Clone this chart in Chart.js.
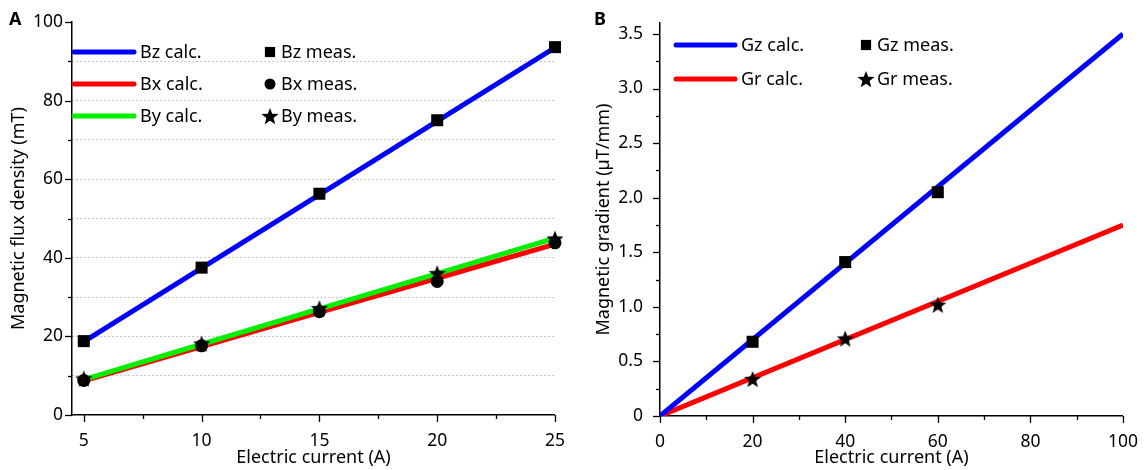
<!DOCTYPE html>
<html>
<head>
<meta charset="utf-8">
<script src="https://cdn.jsdelivr.net/npm/chart.js@4.4.0/dist/chart.umd.min.js"></script>
<style>
    html, body { margin: 0; padding: 0; background: #fff; }
    #wrap { position: relative; width: 1146px; height: 470px; }
    .box { position: absolute; top: 0; width: 573px; height: 470px; }
    .panel { position: absolute; top: 6px; font: bold 18px "Noto Sans"; color: #000; }
</style>
</head>
<body>
<div id="wrap">
    <div class="box" style="left:0"><canvas id="chartA" width="573" height="470"></canvas></div>
    <div class="box" style="left:573px"><canvas id="chartB" width="573" height="470"></canvas></div>
    <div class="panel" style="left:9px">A</div>
    <div class="panel" style="left:594px">B</div>
</div>
<script>
// ---- panel A: flux density vs current ----
const currentA = [5, 10, 15, 20, 25];
const bzCalc = [18.7, 37.4, 56.1, 74.8, 93.5];
const bxCalc = [8.7, 17.4, 26.1, 34.8, 43.5];
const byCalc = [9.0, 18.0, 27.0, 36.0, 45.0];
const bzMeas = [18.8, 37.5, 56.3, 75.0, 93.6];
const bxMeas = [8.8, 17.6, 26.3, 34.0, 43.8];
const byMeas = [9.3, 18.2, 27.2, 36.1, 44.9];
const xTicksA = [5, 10, 15, 20, 25];
const xMinorA = [7.5, 12.5, 17.5, 22.5];
const yTicksA = [0, 20, 40, 60, 80, 100];
const yMinorA = [10, 30, 50, 70, 90];

// ---- panel B: gradient vs current ----
const currentCalcB = [0, 100];
const gzCalc = [0, 3.5];
const grCalc = [0, 1.75];
const currentMeasB = [20, 40, 60];
const gzMeas = [0.68, 1.41, 2.05];
const grMeas = [0.34, 0.71, 1.02];
const xTicksB = [0, 20, 40, 60, 80, 100];
const xMinorB = [10, 30, 50, 70, 90];
const yTicksB = [0, 0.5, 1.0, 1.5, 2.0, 2.5, 3.0, 3.5];
const yMinorB = [0.25, 0.75, 1.25, 1.75, 2.25, 2.75, 3.25];

Chart.defaults.font.family = "Noto Sans";
Chart.defaults.font.size = 18;
Chart.defaults.color = "#000";

const pts = (xs, ys) => xs.map((x, i) => ({ x: x, y: ys[i] }));

/** filled 5-point star used as point style */
function makeStar(r) {
    const c = document.createElement("canvas");
    c.width = c.height = Math.ceil(r * 2 + 2);
    const g = c.getContext("2d");
    const cx = c.width / 2, cy = c.height / 2 + r * 0.1;
    g.beginPath();
    for (let i = 0; i < 10; i++) {
        const rr = i % 2 ? r * 0.42 : r;
        const a = -Math.PI / 2 + i * Math.PI / 5;
        g.lineTo(cx + rr * Math.cos(a), cy + rr * Math.sin(a));
    }
    g.closePath();
    g.fillStyle = "#000";
    g.fill();
    return c;
}
const star = makeStar(9);

function calcLine(label, xs, ys, color, width, order) {
    return {
        label: label, data: pts(xs, ys), showLine: true,
        borderColor: color, backgroundColor: color, borderWidth: width,
        pointRadius: 0, order: order
    };
}
function measPoints(label, xs, ys, style, radius) {
    return {
        label: label, data: pts(xs, ys), showLine: false, clip: false,
        pointStyle: style, pointRadius: radius, pointHoverRadius: radius,
        backgroundColor: "#000", borderColor: "#000", borderWidth: 0, order: 0
    };
}

/** major and minor tick marks drawn outside the axes */
function tickMarks(spec) {
    return {
        id: "tickMarks",
        afterDraw(chart) {
            const ctx = chart.ctx;
            ctx.save();
            ctx.strokeStyle = "#000";
            ctx.lineWidth = 1.3;
            for (const id of Object.keys(spec)) {
                const sc = chart.scales[id];
                const draw = (v, len) => {
                    const p = Math.round(sc.getPixelForValue(v)) + 0.5;
                    ctx.beginPath();
                    if (sc.isHorizontal()) { ctx.moveTo(p, sc.top); ctx.lineTo(p, sc.top + len); }
                    else { ctx.moveTo(sc.right, p); ctx.lineTo(sc.right - len, p); }
                    ctx.stroke();
                };
                spec[id].major.forEach(v => draw(v, 7));
                spec[id].minor.forEach(v => draw(v, 4));
            }
            ctx.restore();
        }
    };
}

/** two-column legend inside the plot: calc lines left, measured symbols right */
function innerLegend(pos) {
    return {
        id: "innerLegend",
        afterDraw(chart) {
            const ctx = chart.ctx;
            const area = chart.chartArea;
            const sets = chart.data.datasets;
            const lines = sets.filter(d => d.showLine);
            const marks = sets.filter(d => !d.showLine);
            ctx.save();
            ctx.font = '18px "Noto Sans"';
            ctx.textBaseline = "middle";
            ctx.fillStyle = "#000";
            lines.forEach((d, i) => {
                const y = area.top + pos.y0 + i * pos.dy;
                ctx.strokeStyle = d.borderColor;
                ctx.lineWidth = 5;
                ctx.lineCap = "round";
                ctx.beginPath();
                ctx.moveTo(area.left + pos.lineX0, y);
                ctx.lineTo(area.left + pos.lineX1, y);
                ctx.stroke();
                ctx.fillText(d.label, area.left + pos.textX, y + 1);
            });
            marks.forEach((d, i) => {
                const y = area.top + pos.y0 + i * pos.dy;
                ctx.fillStyle = "#000";
                Chart.helpers.drawPoint(ctx, {
                    pointStyle: d.pointStyle, radius: d.pointRadius * 0.85, borderWidth: 0, rotation: 0
                }, area.left + pos.markX, y);
                ctx.fillText(d.label, area.left + pos.markTextX, y + 1);
            });
            ctx.restore();
        }
    };
}

function axis(opts) {
    const labelSet = new Set(opts.major);
    return {
        type: "linear",
        min: opts.min, max: opts.max,
        afterBuildTicks: sc => { sc.ticks = opts.major.concat(opts.minor).sort((a, b) => a - b).map(v => ({ value: v })); },
        afterFit: sc => { if (opts.width) sc.width = opts.width; if (opts.height) sc.height = opts.height; },
        ticks: {
            autoSkip: false, maxRotation: 0, padding: opts.pad,
            font: { size: 17.5 },
            callback: v => labelSet.has(v) ? opts.fmt(v) : ""
        },
        grid: opts.grid || { display: false },
        border: { display: true, color: "#000", width: 1.5, dash: [1.5, 2.5] },
        title: { display: true, text: opts.title, font: { size: 18 }, padding: opts.titlePad }
    };
}

// panel A
new Chart(document.getElementById("chartA"), {
    type: "scatter",
    data: {
        datasets: [
            calcLine("Bz calc.", currentA, bzCalc, "#0000ff", 5, 2),
            calcLine("Bx calc.", currentA, bxCalc, "#ff0000", 5, 3),
            calcLine("By calc.", currentA, byCalc, "#00ee00", 5, 2),
            measPoints("Bz meas.", currentA, bzMeas, "rect", 8.5),
            measPoints("Bx meas.", currentA, bxMeas, "circle", 6.5),
            measPoints("By meas.", currentA, byMeas, star, 8)
        ]
    },
    options: {
        responsive: false,
        animation: false,
        layout: { padding: { top: 22, right: 18, left: 0, bottom: 0 } },
        plugins: { legend: { display: false }, tooltip: { enabled: false } },
        scales: {
            x: axis({ min: 4.5, max: 25, major: xTicksA, minor: xMinorA, fmt: v => String(v),
                      height: 55, pad: 8, title: "Electric current (A)", titlePad: { top: 0, bottom: 1 } }),
            y: axis({ min: 0, max: 100, major: yTicksA, minor: yMinorA, fmt: v => String(v),
                      width: 72, pad: 9, title: "Magnetic flux density (mT)", titlePad: { top: 8, bottom: 0 },
                      grid: {
                          display: true, drawTicks: false, lineWidth: 1,
                          color: c => (c.tick && c.tick.value > 0 && c.tick.value < 100) ? "#b4b4b4" : "rgba(0,0,0,0)"
                      } })
        }
    },
    plugins: [
        tickMarks({ x: { major: xTicksA, minor: xMinorA }, y: { major: yTicksA, minor: yMinorA } }),
        innerLegend({ y0: 30, dy: 32, lineX0: 2, lineX1: 62, textX: 68, markX: 198, markTextX: 209 })
    ]
});

// panel B
new Chart(document.getElementById("chartB"), {
    type: "scatter",
    data: {
        datasets: [
            calcLine("Gz calc.", currentCalcB, gzCalc, "#0000ff", 5, 2),
            calcLine("Gr calc.", currentCalcB, grCalc, "#ff0000", 5, 2),
            measPoints("Gz meas.", currentMeasB, gzMeas, "rect", 8.5),
            measPoints("Gr meas.", currentMeasB, grMeas, star, 8)
        ]
    },
    options: {
        responsive: false,
        animation: false,
        layout: { padding: { top: 23, right: 20, left: 0, bottom: 0 } },
        plugins: { legend: { display: false }, tooltip: { enabled: false } },
        scales: {
            x: axis({ min: 0, max: 100, major: xTicksB, minor: xMinorB, fmt: v => String(v),
                      height: 54, pad: 8, title: "Electric current (A)", titlePad: { top: 0, bottom: 1 } }),
            y: axis({ min: 0, max: 3.6, major: yTicksB, minor: yMinorB, fmt: v => v === 0 ? "0" : v.toFixed(1),
                      width: 87, pad: 9, title: "Magnetic gradient (\u00b5T/mm)", titlePad: { top: 20, bottom: 0 } })
        }
    },
    plugins: [
        tickMarks({ x: { major: xTicksB, minor: xMinorB }, y: { major: yTicksB, minor: yMinorB } }),
        innerLegend({ y0: 22, dy: 34, lineX0: 16, lineX1: 75, textX: 81, markX: 206, markTextX: 217 })
    ]
});
</script>
</body>
</html>
